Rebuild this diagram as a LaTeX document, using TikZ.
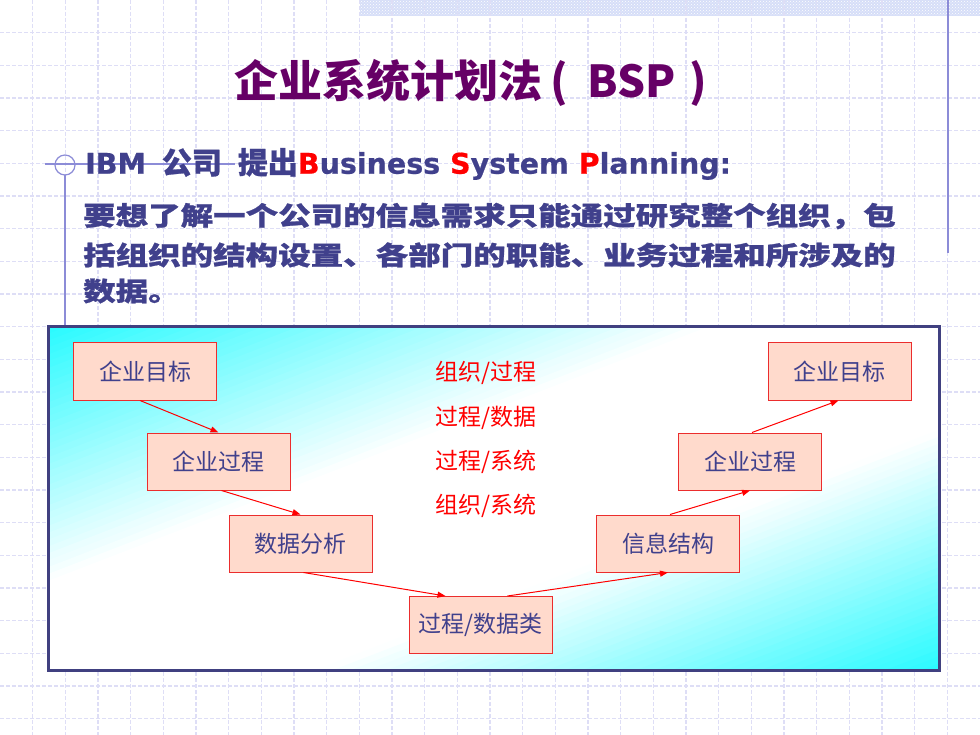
\documentclass[tikz,border=0pt]{standalone}
\usepackage{fontspec}
\setmainfont{DejaVu Sans}
\newfontfamily\cjk{Noto Sans CJK SC}
\newfontfamily\cjkheavy{Noto Sans CJK SC}[FakeBold=0.8]
\newfontfamily\cjkwide{Noto Sans CJK SC}[FakeStretch=1.25, FakeBold=0.9]
\newfontfamily\dvb{DejaVu Sans}[FakeBold=0.6]
\usetikzlibrary{arrows.meta,calc,patterns}
\definecolor{titlepurple}{RGB}{102,0,102}
\definecolor{textblue}{RGB}{64,64,140}
\definecolor{boxfill}{RGB}{255,218,204}
\definecolor{boxline}{RGB}{235,45,45}
\definecolor{frameblue}{RGB}{64,64,128}
\definecolor{gridc}{RGB}{222,222,246}
\definecolor{bulletc}{RGB}{140,140,215}
\definecolor{bannerc}{RGB}{214,222,248}
\definecolor{cyanc}{RGB}{40,250,255}
\tikzset{
  gridline/.style={draw=gridc, line width=1.2pt, dash pattern=on 4pt off 2pt},
  stepbox/.style={draw=boxline, line width=1pt, fill=boxfill, minimum width=143pt,
    minimum height=57pt, inner sep=0pt, text=textblue, font=\cjk\fontsize{23}{23}\selectfont},
  flow/.style={draw=red, line width=1pt, -{Triangle[length=8pt,width=6pt]}},
  lab/.style={anchor=west, inner sep=0pt, text=red, font=\cjk\fontsize{23}{23}\selectfont},
  bodyline/.style={anchor=west, inner sep=0pt, text=textblue, font=\cjkwide\bfseries\fontsize{26}{26}\selectfont},
}
\begin{document}
\begin{tikzpicture}[x=1pt,y=-1pt]
\useasboundingbox (0,0) rectangle (980,735);
\fill[white] (0,0) rectangle (980,735);
% banner
\fill[bannerc] (360,0) rectangle (980,16);
\fill[pattern=crosshatch dots, pattern color=white] (360,0) rectangle (980,16);
% grid
\foreach \i in {1,...,29} \draw[gridline] (\i*32.667,0) -- (\i*32.667,735);
\foreach \j in {1,...,22} \draw[gridline] (0,\j*32.667) -- (980,\j*32.667);
% side lines and bullet
\draw[bulletc, line width=1.2pt] (948,0) -- (948,253);
\draw[bulletc, line width=1.2pt] (65,175) -- (65,327);
\draw[bulletc, line width=1.2pt] (65,165) circle (10);
\draw[bulletc, line width=1.2pt] (45,164) -- (235,164);
% title
\node[anchor=west, inner sep=0pt, text=titlepurple, font=\cjk\bfseries\fontsize{44}{44}\selectfont] (title) at (234,83)
  {企业系统计划法\hspace{8pt}(\hspace{20pt}BSP\hspace{14pt})};
% subtitle
\node[anchor=west, inner sep=0pt, text=textblue, font=\dvb\bfseries\fontsize{28.5}{28.5}\selectfont] (sub) at (85,164)
  {IBM\hspace{16pt}{\cjkheavy\bfseries\fontsize{30}{30}\selectfont 公司}\hspace{16pt}{\cjkheavy\bfseries\fontsize{30}{30}\selectfont 提出}\textcolor{red}{B}usiness \textcolor{red}{S}ystem \textcolor{red}{P}lanning:};
% body
\node[bodyline] (b1) at (83,216) {要想了解一个公司的信息需求只能通过研究整个组织，包};
\node[bodyline] (b2) at (83,255) {括组织的结构设置、各部门的职能、业务过程和所涉及的};
\node[bodyline] (b3) at (83,291) {数据。};
% frame with diagonal gradient (strips parallel to the BL-TR diagonal)
\begin{scope}
\clip (48,327) rectangle (939,670);
\begin{scope}[shift={(48,327)}, x=891pt, y=-343pt]
\foreach \k in {0,...,99} {
  \pgfmathsetmacro\sa{\k/50}
  \pgfmathsetmacro\sb{\k/50+0.026}
  \pgfmathsetmacro\sm{\k/50+0.01}
  \pgfmathtruncatemacro\f{ifthenelse(\sm<0.75,(0.75-\sm)/0.75*100,ifthenelse(\sm<1.3,0,(\sm-1.3)/0.7*100))}
  \fill[cyanc!\f!white] (\sa+1,-1) -- (\sa-1,1) -- (\sb-1,1) -- (\sb+1,-1) -- cycle;
}
\end{scope}
\end{scope}
\draw[frameblue, line width=3pt] (48,327) rectangle (939,670);
% boxes
\node[stepbox] (g1) at (145,371.5) {企业目标};
\node[stepbox] (p1) at (218.5,461.5) {企业过程};
\node[stepbox] (d1) at (300.5,543.5) {数据分析};
\node[stepbox] (pd) at (480.5,625) {过程/数据类};
\node[stepbox] (i1) at (668,543.5) {信息结构};
\node[stepbox] (p2) at (750,461.5) {企业过程};
\node[stepbox] (g2) at (839.5,371.5) {企业目标};
% labels
\node[lab] (l1) at (435,373) {组织/过程};
\node[lab] (l2) at (435,418) {过程/数据};
\node[lab] (l3) at (435,462) {过程/系统};
\node[lab] (l4) at (435,506) {组织/系统};
% arrows
\draw[flow] ($(g1.south)+(-5,0)$) -- (p1.north);
\draw[flow] ($(p1.south)+(3,0)$) -- (d1.north);
\draw[flow] ($(d1.south)+(3,0)$) -- ($(pd.north)+(-35,0)$);
\draw[flow] ($(pd.north)+(27,0)$) -- (i1.south);
\draw[flow] ($(i1.north)+(2,0)$) -- (p2.south);
\draw[flow] ($(p2.north)+(2,0)$) -- ($(g2.south)+(-1,0)$);
\end{tikzpicture}
\end{document}
